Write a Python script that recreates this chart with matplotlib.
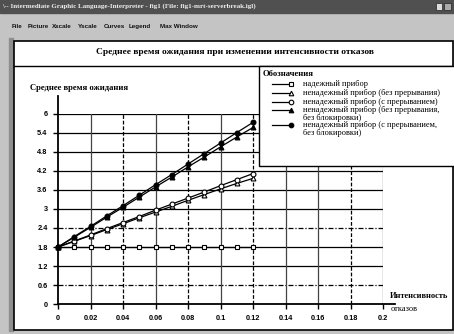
import matplotlib
matplotlib.use("Agg")
import matplotlib.pyplot as plt
from matplotlib.patches import Rectangle
from matplotlib.lines import Line2D

# ---- data -------------------------------------------------------------
rate = [0.0, 0.01, 0.02, 0.03, 0.04, 0.05, 0.06, 0.07, 0.08, 0.09, 0.10, 0.11, 0.12]
reliable = [1.8] * 13
no_interrupt = [1.80, 1.98, 2.16, 2.35, 2.53, 2.72, 2.90, 3.08, 3.27, 3.45, 3.63, 3.80, 3.96]
with_interrupt = [1.80, 1.99, 2.18, 2.38, 2.57, 2.76, 2.96, 3.15, 3.34, 3.53, 3.73, 3.92, 4.11]
no_interrupt_noblock = [1.80, 2.11, 2.42, 2.74, 3.05, 3.37, 3.69, 4.00, 4.32, 4.63, 4.95, 5.26, 5.56]
with_interrupt_noblock = [1.80, 2.13, 2.45, 2.78, 3.10, 3.43, 3.76, 4.08, 4.41, 4.74, 5.07, 5.40, 5.72]

x_ticks = [0, 0.02, 0.04, 0.06, 0.08, 0.1, 0.12, 0.14, 0.16, 0.18, 0.2]
x_tick_labels = ["0", "0.02", "0.04", "0.06", "0.08", "0.1", "0.12", "0.14", "0.16", "0.18", "0.2"]
y_ticks = [0, 0.6, 1.2, 1.8, 2.4, 3, 3.6, 4.2, 4.8, 5.4, 6]
y_tick_labels = ["0", "0.6", "1.2", "1.8", "2.4", "3", "3.6", "4.2", "4.8", "5.4", "6"]
x_dashed = [0.04, 0.08, 0.12, 0.18]
y_dashdot = [0.6, 2.4]

title = "Среднее время ожидания при изменении интенсивности отказов"
y_label = "Среднее время ожидания"
x_label = ["Интенсивность", "отказов"]
legend_title = "Обозначения"
legend_labels = [
    "надежный прибор",
    "ненадежный прибор (без прерывания)",
    "ненадежный прибор (с прерыванием)",
    "ненадежный прибор (без прерывания,\nбез блокировки)",
    "ненадежный прибор (с прерыванием,\nбез блокировки)",
]
series = [reliable, no_interrupt, with_interrupt, no_interrupt_noblock, with_interrupt_noblock]
markers = ["s", "^", "o", "^", "o"]
fills = ["white", "white", "white", "black", "black"]

window_title = "Intermediate Graphic Language-Interpreter - fig1 (File: fig1-mrt-serverbreak.igl)"
menu_items = ["File", "Picture", "Xscale", "Yscale", "Curves", "Legend", "Max Window"]
menu_x = [12, 28, 52, 78, 104, 129, 160]

W, H = 454, 334
SERIF = ["Liberation Serif", "DejaVu Serif"]
SANS = ["Liberation Sans", "DejaVu Sans"]

fig = plt.figure(figsize=(W / 100, H / 100), dpi=100)

# ---- window frame, drawn in pixel coordinates --------------------------
bg = fig.add_axes([0, 0, 1, 1])
bg.set_xlim(0, W)
bg.set_ylim(H, 0)
bg.axis("off")
bg.set_zorder(0)

bg.add_patch(Rectangle((0, 0), W, H, color="#c4c4c4"))
bg.add_patch(Rectangle((0, 0), W, 13, color="#505050"))
bg.text(2, 6.5, "\\-- " + window_title, color="#eeeeee", fontsize=5.0,
        fontweight="bold", family=SERIF, va="center", ha="left")
bg.add_patch(Rectangle((436, 3), 6, 7, facecolor="#dddddd", edgecolor="#222222", lw=0.5))
bg.add_patch(Rectangle((444, 3), 7, 7, facecolor="#aaaaaa", edgecolor="#222222", lw=0.5))
for mx, item in zip(menu_x, menu_items):
    bg.text(mx, 26.5, item, fontsize=4.5, family=SANS, fontweight="bold",
            va="center", ha="left", color="#111111")
bg.add_patch(Rectangle((9, 38), 4, 293, color="#8e8e8e"))
bg.add_patch(Rectangle((13.5, 40.5), 439, 289, facecolor="white",
                       edgecolor="black", lw=1.2))
bg.plot([14, 452], [66, 66], color="black", lw=1.0)
bg.text(235, 52.5, title, fontsize=6.8, fontweight="bold", family=SERIF,
        ha="center", va="center")
bg.text(30, 88, y_label, fontsize=6.2, fontweight="bold", family=SERIF,
        ha="left", va="center")
bg.text(390, 296.5, x_label[0], fontsize=6.0, fontweight="bold", family=SERIF,
        ha="left", va="center")
bg.text(391, 309, x_label[1], fontsize=6.0, family=SERIF,
        ha="left", va="center")

# ---- plot area --------------------------------------------------------
x0, x1, y0, y1 = 58, 383, 304.3, 113.5
ax = fig.add_axes([x0 / W, (H - y0) / H, (x1 - x0) / W, (y0 - y1) / H])
ax.set_zorder(1)
ax.patch.set_alpha(0)
ax.set_xlim(0, 0.2)
ax.set_ylim(0, 6)
for s in ax.spines.values():
    s.set_visible(False)

for yv in y_ticks[1:]:
    if yv in y_dashdot:
        ax.plot([0, 0.2], [yv, yv], color="black", lw=0.9, ls=(0, (4, 1.5, 1, 1.5)), zorder=1)
    else:
        ax.plot([0, 0.2], [yv, yv], color="black", lw=0.9, zorder=1)
for xv in x_ticks[1:]:
    if xv in x_dashed:
        ax.plot([xv, xv], [0, 6], color="black", lw=0.9, ls=(0, (3, 1.5)), zorder=1)
    else:
        ax.plot([xv, xv], [0, 6], color="#444444", lw=0.9, zorder=1)

ax.plot([0, 0], [0, 6.55], color="black", lw=1.3, clip_on=False, zorder=2)
ax.plot([0, 0.2075], [0, 0], color="black", lw=1.3, clip_on=False, zorder=2)

ax.set_xticks(x_ticks)
ax.set_xticklabels(x_tick_labels)
ax.set_yticks(y_ticks)
ax.set_yticklabels(y_tick_labels)
ax.tick_params(direction="out", length=3.5, width=1.0, color="black", pad=4)
for lab in ax.get_xticklabels() + ax.get_yticklabels():
    lab.set_fontsize(5.3)
    lab.set_fontweight("bold")
    lab.set_family(SANS)

for vals, m, fc in zip(series, markers, fills):
    ax.plot(rate, vals, color="black", lw=0.9, marker=m, ms=3.5,
            mfc=fc, mec="black", mew=0.8, clip_on=False, zorder=3)

# ---- legend panel -----------------------------------------------------
top = fig.add_axes([0, 0, 1, 1])
top.set_xlim(0, W)
top.set_ylim(H, 0)
top.axis("off")
top.set_zorder(2)
top.patch.set_alpha(0)
top.add_patch(Rectangle((259, 66), 196, 100, facecolor="white", edgecolor="black", lw=1.0))
top.text(263, 74, legend_title, fontsize=6.2, fontweight="bold", family=SERIF,
         ha="left", va="center")
entry_y = [84, 93, 101.5, 110, 125]
for ey, lab, m, fc in zip(entry_y, legend_labels, markers, fills):
    top.add_line(Line2D([272, 291], [ey, ey], color="black", lw=0.9))
    top.add_line(Line2D([291], [ey], marker=m, ms=3.3, mfc=fc, mec="black", mew=0.8))
    for k, part in enumerate(lab.split("\n")):
        top.text(303, ey + 7.8 * k, part, fontsize=6.0, family=SERIF,
                 ha="left", va="center")

fig.savefig("out.png", dpi=100)
